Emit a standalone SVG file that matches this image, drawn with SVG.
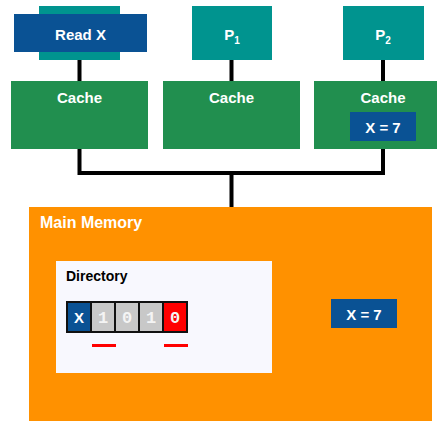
<svg xmlns="http://www.w3.org/2000/svg" width="439" height="422" viewBox="0 0 439 422">
<style>
.teal{fill:#00948F}
.blue{fill:#0A5294}
.green{fill:#218F4F}
.wt{fill:#fff;font-family:"Liberation Sans",Arial,sans-serif;font-weight:bold;font-size:15px;text-anchor:middle}
.wire{stroke:#000;stroke-width:4;fill:none}
.cell{stroke:#111;stroke-width:2}
.dig{fill:#F4F4F4;font-family:"Liberation Mono","DejaVu Sans Mono",monospace;font-weight:bold;font-size:17px;text-anchor:middle}
.red{stroke:#FF0000;stroke-width:3}
</style>
<rect width="439" height="422" fill="#fff"/>
<g id="connectors">
<path class="wire" d="M79.5 60V81M231.5 60V81M383 60V81M79.5 149V173H383V149M231.5 173V208"/>
</g>
<g id="readx">
<rect class="teal" x="39" y="6" width="81" height="54"/>
<rect class="blue" x="14" y="14" width="133" height="38"/>
<text class="wt" x="80.5" y="40">Read X</text>
</g>
<g id="p1">
<rect class="teal" x="192" y="6" width="80" height="54"/>
<text class="wt" x="232" y="40">P<tspan font-size="10" dy="4">1</tspan></text>
</g>
<g id="p2">
<rect class="teal" x="343" y="6" width="81" height="54"/>
<text class="wt" x="383" y="40">P<tspan font-size="10" dy="4">2</tspan></text>
</g>
<g id="cache1">
<rect class="green" x="11" y="81" width="137" height="68"/>
<text class="wt" x="79.5" y="103">Cache</text>
</g>
<g id="cache2">
<rect class="green" x="163" y="81" width="137" height="68"/>
<text class="wt" x="231.5" y="103">Cache</text>
</g>
<g id="cache3">
<rect class="green" x="314" y="81" width="123" height="68"/>
<text class="wt" x="383" y="103">Cache</text>
<rect class="blue" x="350" y="112" width="66" height="29"/>
<text class="wt" x="383" y="133">X = 7</text>
</g>
<g id="mainmemory">
<rect x="29" y="207" width="403" height="214" fill="#FF9100"/>
<text class="wt" x="40" y="228" style="text-anchor:start;font-size:16px">Main Memory</text>
<rect class="blue" x="331" y="299" width="66" height="29"/>
<text class="wt" x="364" y="320">X = 7</text>
</g>
<g id="directory">
<rect x="56" y="261" width="216" height="112" fill="#F8F8FE"/>
<text x="66" y="281" font-family="Liberation Sans,Arial,sans-serif" font-weight="bold" font-size="14" fill="#000">Directory</text>
<rect class="cell blue" x="67" y="302" width="24" height="30"/>
<rect class="cell" x="91" y="302" width="24" height="30" fill="#C8C8C8"/>
<rect class="cell" x="115" y="302" width="24" height="30" fill="#C8C8C8"/>
<rect class="cell" x="139" y="302" width="24" height="30" fill="#C8C8C8"/>
<rect class="cell" x="163" y="302" width="24" height="30" fill="#FF0000"/>
<text class="wt" x="79" y="323">X</text>
<text class="dig" x="103" y="323">1</text>
<text class="dig" x="127" y="323">0</text>
<text class="dig" x="151" y="323">1</text>
<text class="dig" x="175" y="323">0</text>
<line class="red" x1="92" y1="345.5" x2="116" y2="345.5"/>
<line class="red" x1="164" y1="345.5" x2="188" y2="345.5"/>
</g>
</svg>
